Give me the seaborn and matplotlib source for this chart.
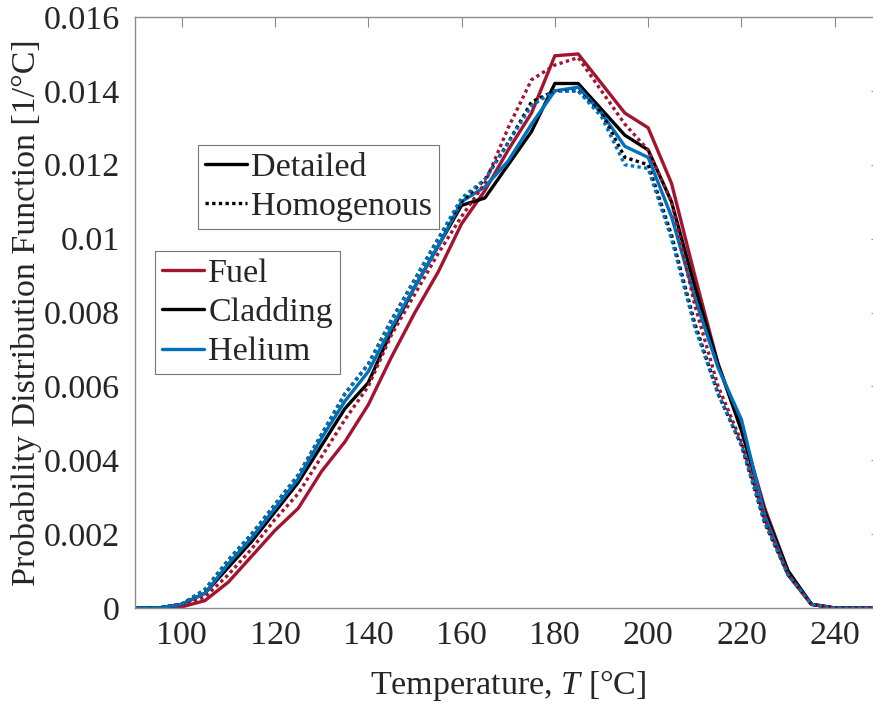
import numpy as np
import pandas as pd
import matplotlib
matplotlib.use("Agg")
import matplotlib.pyplot as plt
from matplotlib.lines import Line2D
import seaborn as sns

# ---------------- data ----------------
temperature = [90, 95, 100, 105, 110, 115, 120, 125, 130, 135, 140, 145, 150, 155,
               160, 165, 170, 175, 180, 185, 190, 195, 200, 205, 210, 215, 220,
               225, 230, 235, 240, 245, 250]

fuel_detailed = [0, 0, 0.00003, 0.0002, 0.0007, 0.0014, 0.0021, 0.0027, 0.0037, 0.0045,
                 0.0055, 0.0068, 0.0080, 0.0091, 0.0104, 0.0113, 0.0124, 0.0134, 0.01495,
                 0.0150, 0.0142, 0.0134, 0.0130, 0.0115, 0.0090, 0.0066, 0.0049, 0.0027,
                 0.0010, 0.0001, 0, 0, 0]
fuel_homog = [0, 0, 0.00005, 0.0003, 0.0009, 0.0016, 0.0024, 0.0031, 0.0041, 0.0051,
              0.0060, 0.0074, 0.0085, 0.0096, 0.0106, 0.0115, 0.0130, 0.0143, 0.0147,
              0.0149, 0.0140, 0.0131, 0.0124, 0.0110, 0.0082, 0.0060, 0.0045, 0.0024,
              0.0009, 0.0001, 0, 0, 0]
clad_detailed = [0, 0, 0.0001, 0.0004, 0.0011, 0.0018, 0.0026, 0.0034, 0.0044, 0.0054,
                 0.0061, 0.0075, 0.0087, 0.0098, 0.0109, 0.0111, 0.0120, 0.0129, 0.0142,
                 0.0142, 0.0135, 0.0128, 0.0124, 0.0110, 0.0087, 0.0066, 0.0048, 0.0026,
                 0.0010, 0.0001, 0, 0, 0]
clad_homog = [0, 0, 0.0001, 0.0005, 0.0013, 0.0020, 0.0028, 0.0036, 0.0047, 0.0058,
              0.0066, 0.0078, 0.0089, 0.0100, 0.0110, 0.0116, 0.0126, 0.0137, 0.0140,
              0.0140, 0.0134, 0.0122, 0.0120, 0.0101, 0.0077, 0.0058, 0.0044, 0.0023,
              0.0009, 0.0001, 0, 0, 0]
helium_detailed = [0, 0, 0.0001, 0.0004, 0.0012, 0.0019, 0.0027, 0.0035, 0.0046, 0.0056,
                   0.0064, 0.0076, 0.0087, 0.0098, 0.0110, 0.0114, 0.0121, 0.0131, 0.0140,
                   0.0141, 0.0134, 0.0125, 0.0122, 0.0106, 0.0084, 0.0065, 0.0051, 0.0025,
                   0.0009, 0.0001, 0, 0, 0]
helium_homog = [0, 0, 0.0001, 0.0005, 0.0013, 0.0020, 0.0028, 0.0036, 0.0047, 0.0058,
                0.0066, 0.0078, 0.0089, 0.0100, 0.0111, 0.0116, 0.0126, 0.0136, 0.0140,
                0.0140, 0.0133, 0.0120, 0.0119, 0.0100, 0.0076, 0.0058, 0.0044, 0.0023,
                0.0009, 0.0001, 0, 0, 0]

materials = ["Fuel", "Cladding", "Helium"]
models = ["Detailed", "Homogenous"]
x_ticks = [100, 120, 140, 160, 180, 200, 220, 240]
y_ticks = [0, 0.002, 0.004, 0.006, 0.008, 0.01, 0.012, 0.014, 0.016]
y_tick_labels = ["0", "0.002", "0.004", "0.006", "0.008", "0.01", "0.012", "0.014", "0.016"]

colors = {"Fuel": "#A2142F", "Cladding": "#000000", "Helium": "#0072BD"}

series = {
    ("Fuel", "Detailed"): fuel_detailed,
    ("Cladding", "Detailed"): clad_detailed,
    ("Helium", "Detailed"): helium_detailed,
    ("Fuel", "Homogenous"): fuel_homog,
    ("Cladding", "Homogenous"): clad_homog,
    ("Helium", "Homogenous"): helium_homog,
}

rows = []
for (mat, mod), vals in series.items():
    for t, v in zip(temperature, vals):
        rows.append({"T": t, "pdf": v, "material": mat, "model": mod})
df = pd.DataFrame(rows)

# ---------------- style ----------------
sns.set_style("white")
plt.rcParams["font.family"] = ["Liberation Serif", "DejaVu Serif"]
plt.rcParams["mathtext.fontset"] = "custom"
plt.rcParams["mathtext.rm"] = "Liberation Serif"
plt.rcParams["mathtext.it"] = "Liberation Serif:italic"

FS = 24.5
LW = 2.4
DOT = (0, (1, 1.0))

fig = plt.figure(figsize=(8.73, 7.03), dpi=100)
W, H = 873, 703
left_px, top_px, bottom_px = 135, 17, 608
x0, x1 = 90, 250
px_per_deg = 4.665
ax_w_px = (x1 - x0) * px_per_deg
ax_h_px = bottom_px - top_px
ax = fig.add_axes([left_px / W, (H - bottom_px) / H, ax_w_px / W, ax_h_px / H])

for (mat, mod), vals in series.items():
    sub = df[(df.material == mat) & (df.model == mod)]
    sns.lineplot(data=sub, x="T", y="pdf", ax=ax, color=colors[mat],
                 linewidth=LW, linestyle="-" if mod == "Detailed" else DOT,
                 legend=False, errorbar=None)

ax.set_xlim(x0, x1)
ax.set_ylim(0, 0.016)
ax.set_xticks(x_ticks)
ax.set_yticks(y_ticks)
ax.set_yticklabels(y_tick_labels)

for s in ax.spines.values():
    s.set_color("#8c8c8c")
    s.set_linewidth(1.0)
ax.tick_params(direction="in", length=7, width=0.8, color="#8c8c8c",
               labelsize=FS, labelcolor="#262626", top=True, right=True)
ax.tick_params(axis="x", pad=9)
ax.tick_params(axis="y", pad=11)

ax.set_xlabel("Temperature, $T$ [°C]", fontsize=FS, color="#262626", labelpad=12)
ax.set_ylabel("Probability Distribution Function [1/°C]", fontsize=FS, color="#262626", labelpad=1)


def anchor(px, py):
    return ((px - left_px) / ax_w_px, (bottom_px - py) / ax_h_px)


common = dict(loc="upper left", fontsize=FS, frameon=True, fancybox=False,
              edgecolor="#555555", handlelength=1.25, handletextpad=0.12,
              borderpad=0.2, labelspacing=0.25, borderaxespad=0)

h1 = [Line2D([], [], color="black", lw=LW, linestyle="-"),
      Line2D([], [], color="black", lw=LW, linestyle=DOT)]
leg1 = ax.legend(h1, models, bbox_to_anchor=anchor(198, 145), **common)
leg1.get_frame().set_linewidth(0.8)
ax.add_artist(leg1)

h2 = [Line2D([], [], color=colors[m], lw=LW) for m in materials]
leg2 = ax.legend(h2, materials, bbox_to_anchor=anchor(155, 251), **common)
leg2.get_frame().set_linewidth(0.8)

fig.savefig("out.png", dpi=100)
